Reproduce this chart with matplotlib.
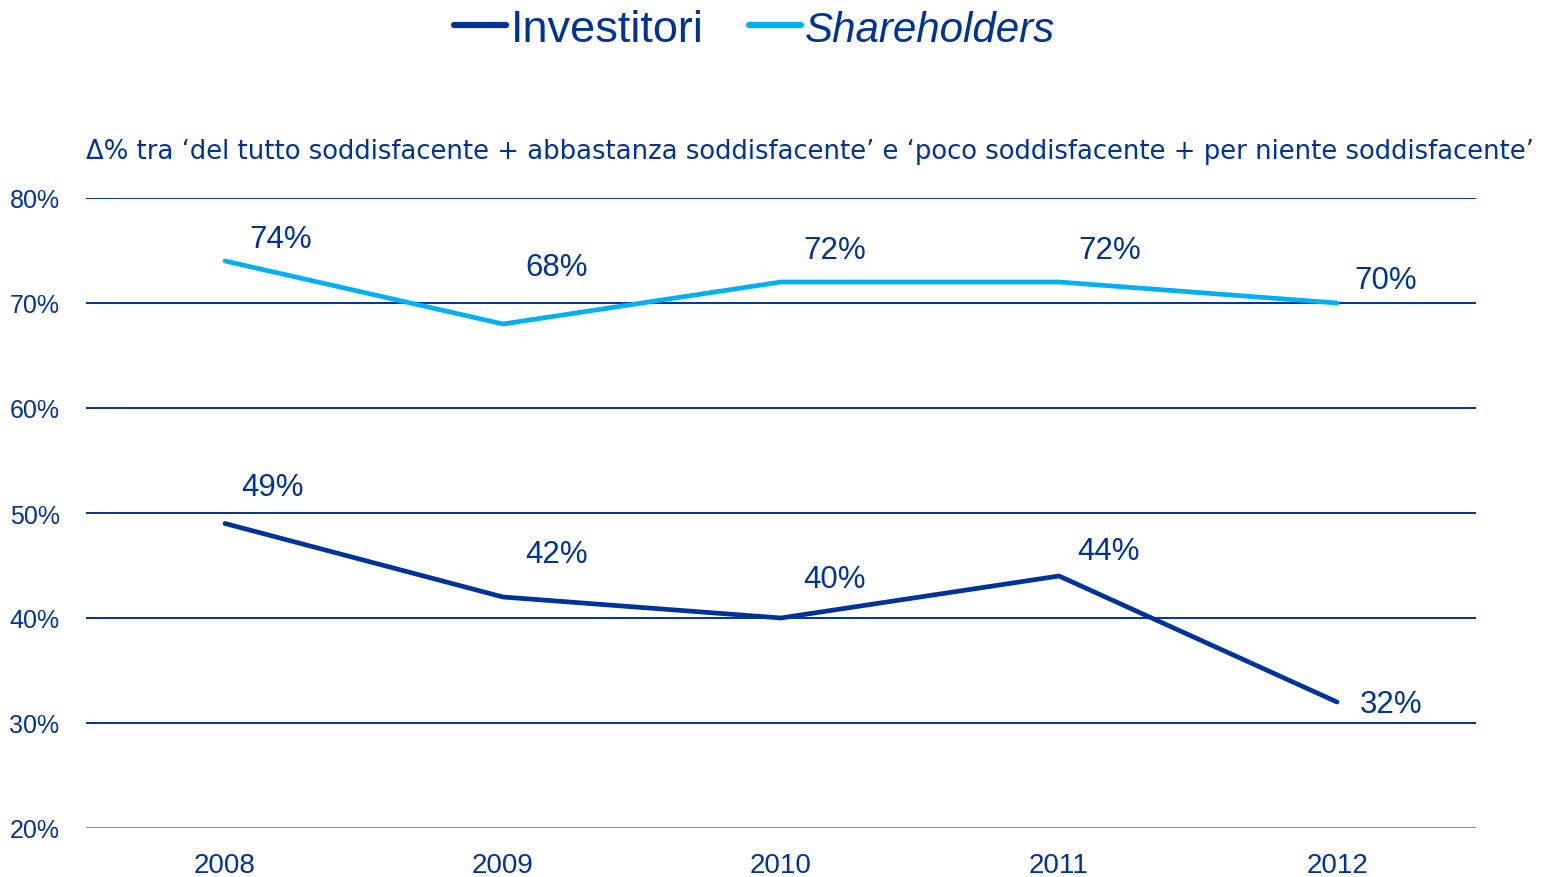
import matplotlib
matplotlib.use("Agg")
import matplotlib.pyplot as plt

years = ["2008", "2009", "2010", "2011", "2012"]
investitori = [49, 42, 40, 44, 32]
shareholders = [74, 68, 72, 72, 70]
yticks = [20, 30, 40, 50, 60, 70, 80]
subtitle = "Δ% tra \u2018del tutto soddisfacente + abbastanza soddisfacente\u2019 e \u2018poco soddisfacente + per niente soddisfacente\u2019"

DARK = "#003399"
LIGHT = "#00B0F0"
FONT = ["Liberation Sans", "DejaVu Sans"]
plt.rcParams["font.family"] = FONT

fig = plt.figure(figsize=(15.46, 8.78), dpi=100)
ax = fig.add_axes([86/1546, 1-829/878, (1476-86)/1546, (829-199)/878])

x = list(range(len(years)))
l1, = ax.plot(x, investitori, color=DARK, lw=3.4, solid_capstyle="round", label="Investitori", zorder=3)
l2, = ax.plot(x, shareholders, color=LIGHT, lw=3.4, solid_capstyle="round", label="Shareholders", zorder=3)

ax.set_xlim(-0.5, len(years) - 0.5)
ax.set_ylim(20, 80)
for t in yticks:
    ax.axhline(t, color=("#888888" if t == yticks[0] else DARK), lw=1.4, zorder=1)
for s in ax.spines.values():
    s.set_visible(False)
ax.set_yticks(yticks)
ax.set_yticklabels([f"{t}%" for t in yticks])
ax.set_xticks(x)
ax.set_xticklabels(years)
ax.tick_params(length=0, labelcolor=DARK)
ax.tick_params(axis="y", pad=19, labelsize=18)
ax.tick_params(axis="x", pad=17, labelsize=20)

# data labels offsets (pixels)
inv_off = [(48, 36), (54, 43), (54, 39), (49, 25), (54, -2)]
sh_off = [(56, 22), (54, 57), (54, 32), (51, 32), (49, 23)]
for i in x:
    ax.annotate(f"{investitori[i]}%", (i, investitori[i]), xytext=inv_off[i], textcoords="offset pixels",
                ha="center", va="center", color=DARK, fontsize=22.5)
    ax.annotate(f"{shareholders[i]}%", (i, shareholders[i]), xytext=sh_off[i], textcoords="offset pixels",
                ha="center", va="center", color=DARK, fontsize=22.5)

fig.text(86/1546, 1-152/878, subtitle, color=DARK, fontsize=18.65, ha="left", va="center",
         family=["DejaVu Sans"])

leg = fig.legend(handles=[l1, l2], loc="center", bbox_to_anchor=(755/1546, 1-30/878), ncol=2,
                 frameon=False, fontsize=32.5, handlelength=1.15, handletextpad=0.1, columnspacing=1.0,
                 borderpad=0, borderaxespad=0)
for line in leg.get_lines():
    line.set_linewidth(4.5)
for t in leg.get_texts():
    t.set_color(DARK)
leg.get_texts()[1].set_style("italic")
leg.get_texts()[1].set_fontsize(30.3)

fig.savefig("out.png", dpi=100)
